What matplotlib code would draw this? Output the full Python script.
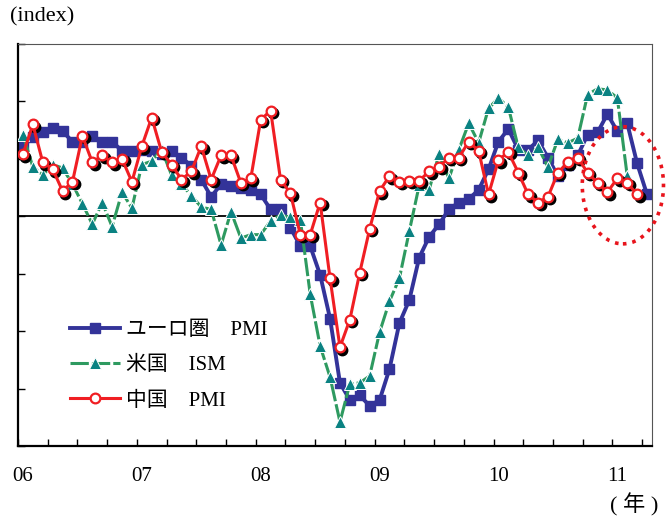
import numpy as np
import matplotlib
matplotlib.use('Agg')
import matplotlib.pyplot as plt
from matplotlib.patches import Ellipse
from matplotlib.transforms import offset_copy

plt.rcParams['font.family'] = ['Liberation Serif', 'Noto Sans CJK JP']

# ==================== データ（月次、06年3月～） ====================
# ユーロ圏 PMI（06/3～11/6）
euro_pmi = [56.1, 56.9, 57.3, 57.7, 57.4, 56.5, 56.5, 57.0, 56.5, 56.5,
            55.7, 55.7, 55.8, 55.7, 55.4, 55.7, 55.1, 54.4, 53.2, 51.7,
            52.8, 52.6, 52.5, 52.3, 51.9, 50.6, 50.6, 49.0, 47.4, 47.4,
            44.9, 41.1, 35.5, 34.0, 34.4, 33.5, 34.0, 36.7, 40.7, 42.7,
            46.4, 48.2, 49.3, 50.6, 51.2, 51.5, 52.3, 54.1, 56.5, 57.6,
            55.8, 55.8, 56.6, 55.1, 53.5, 54.5, 55.3, 57.1, 57.3, 58.9,
            57.4, 58.1, 54.6, 51.9]
# 米国 ISM
us_ism = [57.1, 54.3, 53.6, 54.5, 54.2, 52.8, 51.1, 49.3, 51.2, 49.1,
          52.1, 50.7, 54.5, 54.8, 55.8, 53.6, 52.8, 51.8, 50.8, 50.6,
          47.5, 50.4, 48.1, 48.4, 48.4, 49.6, 50.1, 49.9, 49.7, 43.2,
          38.7, 36.0, 32.1, 35.4, 35.5, 36.1, 39.9, 42.6, 44.6, 48.7,
          52.7, 52.3, 55.4, 53.3, 55.8, 58.1, 56.4, 59.4, 60.3, 59.5,
          56.0, 55.3, 56.0, 54.3, 56.7, 56.4, 56.8, 60.6, 61.1, 61.0,
          60.3, 53.5]
# 中国 PMI
china_pmi = [55.4, 58.0, 54.7, 54.1, 52.2, 53.0, 57.0, 54.7, 55.3, 54.7,
             55.0, 53.0, 56.1, 58.6, 55.6, 54.5, 53.2, 53.9, 56.1, 53.2,
             55.3, 55.3, 52.9, 53.3, 58.4, 59.2, 53.2, 52.0, 48.4, 48.4,
             51.2, 44.6, 38.6, 41.0, 45.1, 48.9, 52.2, 53.5, 53.0, 53.1,
             53.1, 53.9, 54.3, 55.1, 55.1, 56.5, 55.7, 51.9, 54.9, 55.6,
             53.8, 51.9, 51.2, 51.7, 53.8, 54.7, 55.1, 53.8, 52.9, 52.1,
             53.3, 52.9, 51.9]

year_labels = ['06', '07', '08', '09', '10', '11']

x_euro = np.arange(len(euro_pmi)) + 0.5
x_ism = np.arange(len(us_ism)) + 0.5
x_china = np.arange(len(china_pmi)) + 0.5

# ==================== 描画 ====================
fig = plt.figure(figsize=(6.7, 5.18), dpi=100)
ax = fig.add_axes([18 / 670, 1 - 446 / 518, 634 / 670, 402 / 518])

ax.axhline(50, color='black', linewidth=1.3, zorder=1)

ax.plot(x_euro, euro_pmi, color='#333399', linewidth=2.8, marker='s',
        markersize=7, markerfacecolor='#333399', markeredgecolor='#333399',
        label='ユーロ圏\u3000PMI', zorder=2)
ax.plot(x_ism, us_ism, color='#2e9a60', linewidth=2.2, linestyle=(0, (6, 1)),
        marker='^', markersize=9, markerfacecolor='#0a8282',
        markeredgecolor='white', markeredgewidth=0.7,
        label='米国\u3000ISM', zorder=3)

# 中国PMIの影
shadow = offset_copy(ax.transData, fig=fig, x=2.5, y=-2.5, units='dots')
ax.plot(x_china, china_pmi, linestyle='None', marker='o', markersize=7.5,
        color='black', transform=shadow, zorder=4)
ax.plot(x_china, china_pmi, color='#f01e23', linewidth=2.2, marker='o',
        markersize=7, markerfacecolor='white', markeredgecolor='#f01e23',
        markeredgewidth=1.6, label='中国\u3000PMI', zorder=5)

# 点線の楕円
ell = Ellipse((61.06, 52.7), 8.2, 10.2, fill=False, edgecolor='#e8141c',
              linestyle=':', linewidth=2.6, clip_on=False, zorder=6)
ax.add_patch(ell)

ax.set_xlim(0, 64)
ax.set_ylim(30, 65)

ax.set_yticks(np.arange(30, 66, 5))
ax.set_yticklabels([])
ax.tick_params(axis='y', direction='in', length=5, width=1)

ax.set_xticks(np.arange(0, 61, 12) + 0.5)
ax.set_xticklabels(year_labels, fontsize=15)
ax.tick_params(axis='x', which='major', length=0, pad=15)
ax.set_xticks(np.arange(0, 64, 3), minor=True)
ax.tick_params(axis='x', which='minor', direction='in', length=5, width=1)

for side in ['left', 'bottom']:
    ax.spines[side].set_linewidth(1.6)
for side in ['top', 'right']:
    ax.spines[side].set_linewidth(0.8)
    ax.spines[side].set_color('#555555')

fig.text(10 / 670, 1 - 17 / 518, '(index)', fontsize=16, va='center', ha='left')
fig.text(658 / 670, 1 - 505 / 518, '( 年 )', fontsize=16, va='center', ha='right')

ax.legend(loc='upper left', bbox_to_anchor=(0.082, 0.312), frameon=False,
          fontsize=15, handlelength=2.4, handletextpad=0.3,
          labelspacing=0.75, borderpad=0, borderaxespad=0)

plt.savefig('out.png', dpi=100)
plt.close()
